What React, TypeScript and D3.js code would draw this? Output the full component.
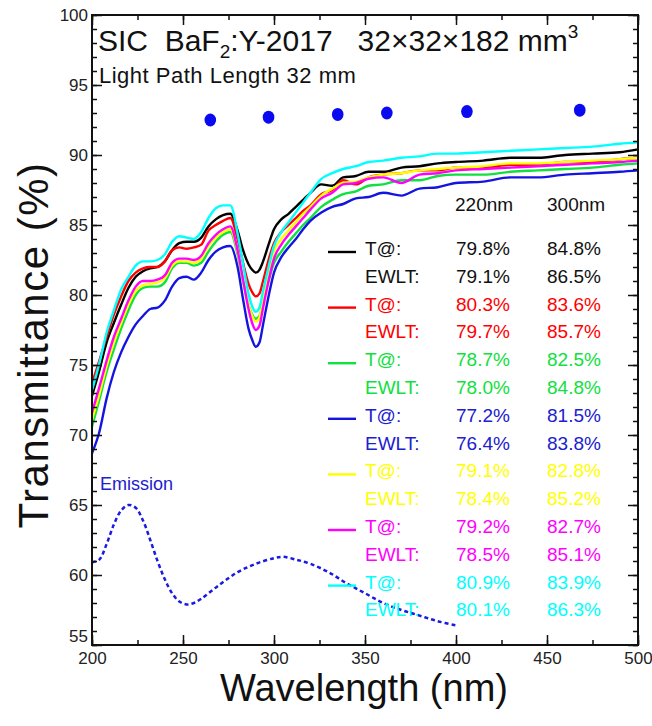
import React, { useEffect, useRef } from "react";
import * as d3 from "d3";

// wavelength grid (nm) shared by the seven transmittance curves
const waves = [200, 204, 208, 212, 216, 220, 224, 228, 232, 236, 240, 244, 248, 252, 256, 260, 264, 268, 272, 276,
  280, 283, 286, 288, 290, 292, 294, 297, 300, 304, 308, 312, 316, 320,
  326, 332, 338, 345, 352, 360, 370, 380, 390, 400, 415, 430, 445, 460, 475, 490, 500];

const blackT = [72.8, 74.6, 76.6, 78.0, 79.3, 80.5, 81.3, 81.7, 81.9, 82.0, 82.4, 83.2, 83.7, 83.8, 83.8, 84.1, 84.9, 85.4, 85.7, 85.8,
  84.6, 83.2, 82.2, 81.8, 81.6, 81.8, 82.4, 83.6, 84.7, 85.4, 85.8, 86.3, 86.8, 87.3,
  87.9, 87.8, 88.4, 88.5, 88.8, 88.8, 89.1, 89.2, 89.4, 89.5, 89.6, 89.8, 89.8, 90.0, 90.1, 90.2, 90.4];
const redT = [73.7, 75.3, 77.0, 78.6, 79.9, 81.0, 81.6, 81.9, 82.0, 82.0, 82.4, 83.2, 83.4, 83.3, 83.4, 83.6, 84.6, 85.0, 85.3, 85.5,
  84.0, 82.3, 80.8, 80.2, 79.9, 80.1, 81.0, 82.5, 83.7, 84.5, 85.0, 85.5, 86.0, 86.4,
  87.2, 87.5, 88.2, 87.9, 88.4, 88.6, 88.7, 88.9, 88.9, 89.1, 89.1, 89.3, 89.3, 89.5, 89.5, 89.7, 89.8];
const greenT = [70.6, 72.5, 74.5, 76.1, 77.6, 78.9, 80.0, 80.5, 80.6, 80.6, 80.9, 81.9, 82.3, 82.3, 82.1, 82.3, 83.1, 83.8, 84.3, 84.5,
  82.9, 81.0, 79.3, 78.6, 78.3, 78.5, 79.5, 81.0, 82.3, 83.1, 83.8, 84.4, 85.0, 85.5,
  86.3, 86.8, 87.2, 87.4, 87.8, 87.9, 88.2, 88.2, 88.5, 88.6, 88.6, 88.8, 88.9, 89.0, 89.1, 89.3, 89.4];
const blueT = [68.7, 70.2, 72.6, 74.5, 75.9, 77.0, 77.9, 78.5, 79.0, 79.1, 79.6, 80.6, 81.2, 81.3, 81.1, 81.6, 82.5, 83.1, 83.4, 83.5,
  82.0, 79.7, 77.6, 76.8, 76.3, 76.6, 77.9, 79.9, 81.6, 82.7, 83.4, 84.0, 84.7, 85.3,
  85.9, 86.3, 86.5, 86.9, 87.0, 87.3, 87.1, 87.6, 87.7, 88.0, 88.1, 88.4, 88.4, 88.6, 88.7, 88.8, 88.9];
const yellowT = [71.1, 72.9, 74.9, 76.6, 78.0, 79.3, 80.3, 80.7, 80.8, 80.9, 81.2, 82.1, 82.4, 82.4, 82.3, 82.6, 83.5, 84.1, 84.5, 84.7,
  83.1, 81.1, 79.3, 78.5, 78.1, 78.4, 79.6, 81.5, 83.1, 84.0, 84.6, 85.2, 85.8, 86.3,
  87.1, 87.6, 88.0, 88.1, 88.4, 88.6, 88.7, 88.9, 89.0, 89.1, 89.2, 89.4, 89.4, 89.5, 89.6, 89.7, 89.8];
const magentaT = [71.6, 73.4, 75.3, 77.0, 78.3, 79.6, 80.6, 81.0, 81.0, 81.1, 81.4, 82.3, 82.6, 82.6, 82.5, 82.8, 83.7, 84.3, 84.7, 84.9,
  83.2, 81.1, 79.0, 78.0, 77.5, 77.8, 79.1, 81.0, 82.6, 83.6, 84.3, 84.9, 85.5, 86.1,
  86.9, 87.3, 87.9, 88.0, 88.3, 88.4, 88.0, 88.6, 88.7, 88.9, 89.0, 89.1, 89.2, 89.3, 89.4, 89.5, 89.6];
const cyanT = [73.2, 75.1, 77.3, 78.9, 80.4, 81.3, 82.1, 82.4, 82.4, 82.5, 82.9, 83.8, 84.2, 84.1, 84.0, 84.5, 85.5, 86.2, 86.4, 86.4,
  84.4, 82.2, 80.1, 79.2, 78.8, 79.1, 80.3, 82.0, 83.5, 84.5, 85.2, 85.9, 86.6, 87.3,
  88.3, 88.7, 89.0, 89.2, 89.5, 89.6, 89.8, 89.9, 90.1, 90.1, 90.2, 90.3, 90.4, 90.5, 90.6, 90.8, 90.9];

const seriesNames = ["black", "red", "green", "blue", "yellow", "magenta", "cyan"];
const seriesColors = ["#000000", "#ff0000", "#10e040", "#1414e0", "#ffff00", "#ff00ff", "#00ffff"];
const textColors = ["#111111", "#ff0000", "#10e040", "#2020d0", "#ffff00", "#ff00ff", "#00ffff"];
const seriesValues = [blackT, redT, greenT, blueT, yellowT, magentaT, cyanT];

// emission spectrum (dashed)
const emWaves = [200, 204, 208, 212, 216, 220, 224, 228, 232, 236, 240, 244, 248, 252, 256, 260, 270, 280, 290, 300, 305, 312, 320, 330, 340, 350, 360, 370, 380, 390, 400];
const emValues = [60.9, 61.1, 62.2, 63.6, 64.6, 65.0, 64.8, 63.9, 62.5, 61.0, 59.7, 58.7, 58.1, 57.9, 58.0, 58.3, 59.3, 60.2, 60.8, 61.2, 61.3, 61.1, 60.8, 60.2, 59.4, 58.7, 58.0, 57.5, 57.1, 56.7, 56.4];

// theoretical limit points
const dotWaves = [265, 297, 335, 362, 406, 468];
const dotValues = [92.5, 92.7, 92.9, 93.0, 93.1, 93.2];

// legend numbers
const t220 = ["79.8%", "80.3%", "78.7%", "77.2%", "79.1%", "79.2%", "80.9%"];
const t300 = ["84.8%", "83.6%", "82.5%", "81.5%", "82.8%", "82.7%", "83.9%"];
const ewlt220 = ["79.1%", "79.7%", "78.0%", "76.4%", "78.4%", "78.5%", "80.1%"];
const ewlt300 = ["86.5%", "85.7%", "84.8%", "83.8%", "85.2%", "85.1%", "86.3%"];

const xTicks = [200, 250, 300, 350, 400, 450, 500];
const yTicks = [55, 60, 65, 70, 75, 80, 85, 90, 95, 100];

const FONT = "'Liberation Sans', Arial, sans-serif";

export default function App() {
  const ref = useRef<SVGSVGElement>(null);

  useEffect(() => {
    const svg = d3.select(ref.current);
    svg.selectAll("*").remove();

    const left = 92, right = 638, top = 15, bottom = 645;
    const x = d3.scaleLinear().domain([200, 500]).range([left, right]);
    const y = d3.scaleLinear().domain([55, 100]).range([bottom, top]);

    const g = svg.append("g");

    // curves
    const line = d3.line<[number, number]>().x(d => x(d[0])).y(d => y(d[1])).curve(d3.curveMonotoneX);
    seriesValues.forEach((vals, i) => {
      g.append("path")
        .datum(waves.map((w, j) => [w, vals[j]] as [number, number]))
        .attr("fill", "none")
        .attr("stroke", seriesColors[i])
        .attr("stroke-width", 2.4)
        .attr("stroke-linejoin", "round")
        .attr("d", line as any);
    });

    // emission
    g.append("path")
      .datum(emWaves.map((w, j) => [w, emValues[j]] as [number, number]))
      .attr("fill", "none")
      .attr("stroke", "#1a1ae0")
      .attr("stroke-width", 2.5)
      .attr("stroke-dasharray", "4 3")
      .attr("d", d3.line<[number, number]>().x(d => x(d[0])).y(d => y(d[1])).curve(d3.curveCatmullRom) as any);

    g.append("text").attr("x", 100).attr("y", 490).attr("font-size", 18).attr("fill", "#2020d0").attr("font-family", FONT).text("Emission");

    // dots
    g.selectAll("ellipse.dot").data(dotWaves).join("ellipse")
      .attr("cx", d => x(d)).attr("cy", (d, i) => y(dotValues[i]))
      .attr("rx", 5.8).attr("ry", 6.5).attr("fill", "#0a0af0");

    // legend
    const lg = svg.append("g").attr("font-family", FONT).attr("font-size", 19);
    lg.append("text").attr("x", 455).attr("y", 211).attr("fill", "#111").text("220nm");
    lg.append("text").attr("x", 547).attr("y", 211).attr("fill", "#111").text("300nm");
    seriesNames.forEach((name, i) => {
      const r0 = 248 + 2 * i * 27.8;
      const r1 = r0 + 27.8;
      lg.append("line").attr("x1", 328).attr("x2", 356).attr("y1", r0 + 4).attr("y2", r0 + 4)
        .attr("stroke", seriesColors[i]).attr("stroke-width", 2.4);
      lg.append("text").attr("x", 365).attr("y", r0 + 7).attr("fill", textColors[i]).text("T@:");
      lg.append("text").attr("x", 456).attr("y", r0 + 7).attr("fill", textColors[i]).text(t220[i]);
      lg.append("text").attr("x", 547).attr("y", r0 + 7).attr("fill", textColors[i]).text(t300[i]);
      lg.append("text").attr("x", 365).attr("y", r1 + 7).attr("fill", textColors[i]).text("EWLT:");
      lg.append("text").attr("x", 456).attr("y", r1 + 7).attr("fill", textColors[i]).text(ewlt220[i]);
      lg.append("text").attr("x", 547).attr("y", r1 + 7).attr("fill", textColors[i]).text(ewlt300[i]);
    });

    // axes, ticks pointing inwards on all four sides
    const minorX = d3.range(200, 501, 25);
    const minorY = d3.range(55, 101, 1);
    const styleAxis = (sel: any) => {
      sel.select(".domain").remove();
      sel.selectAll("line").attr("stroke", "#111").attr("stroke-width", 1.5);
      sel.selectAll("text").attr("font-family", FONT).attr("font-size", 17).attr("fill", "#222");
    };

    svg.append("g").attr("transform", `translate(0,${bottom})`)
      .call(d3.axisBottom(x).tickValues(minorX).tickSize(-5).tickFormat(() => "")).call(styleAxis);
    const xb = svg.append("g").attr("transform", `translate(0,${bottom})`)
      .call(d3.axisBottom(x).tickValues(xTicks).tickSize(-10).tickPadding(7).tickFormat(d3.format("d")));
    styleAxis(xb);
    svg.append("g").attr("transform", `translate(0,${top})`)
      .call(d3.axisTop(x).tickValues(minorX).tickSize(-5).tickFormat(() => "")).call(styleAxis);
    svg.append("g").attr("transform", `translate(0,${top})`)
      .call(d3.axisTop(x).tickValues(xTicks).tickSize(-10).tickFormat(() => "")).call(styleAxis);

    svg.append("g").attr("transform", `translate(${left},0)`)
      .call(d3.axisLeft(y).tickValues(minorY).tickSize(-5).tickFormat(() => "")).call(styleAxis);
    const yl = svg.append("g").attr("transform", `translate(${left},0)`)
      .call(d3.axisLeft(y).tickValues(yTicks).tickSize(-10).tickPadding(4).tickFormat(d3.format("d")));
    styleAxis(yl);
    yl.selectAll(".tick text").filter((d: any) => d === 55).attr("dy", "-0.2em");
    svg.append("g").attr("transform", `translate(${right},0)`)
      .call(d3.axisRight(y).tickValues(minorY).tickSize(-5).tickFormat(() => "")).call(styleAxis);
    svg.append("g").attr("transform", `translate(${right},0)`)
      .call(d3.axisRight(y).tickValues(yTicks).tickSize(-10).tickFormat(() => "")).call(styleAxis);

    // frame
    svg.append("rect").attr("x", left).attr("y", top).attr("width", right - left).attr("height", bottom - top)
      .attr("fill", "none").attr("stroke", "#111").attr("stroke-width", 2);

    // titles
    const title = svg.append("text").attr("x", 98).attr("y", 51).attr("font-family", FONT).attr("font-size", 30)
      .attr("fill", "#111").style("white-space", "pre");
    title.append("tspan").text("SIC  BaF");
    title.append("tspan").attr("font-size", 19).attr("dy", 7).text("2");
    title.append("tspan").attr("dy", -7).text(":Y-2017   32×32×182 mm");
    title.append("tspan").attr("font-size", 19).attr("dy", -13).text("3");

    svg.append("text").attr("x", 99).attr("y", 83).attr("font-family", FONT).attr("font-size", 22)
      .attr("letter-spacing", 0.5).attr("fill", "#111").text("Light Path Length 32 mm");

    svg.append("text").attr("transform", `translate(48,345) rotate(-90)`).attr("text-anchor", "middle")
      .attr("font-family", FONT).attr("font-size", 42).attr("letter-spacing", 1.5).attr("fill", "#111").text("Transmittance (%)");
    svg.append("text").attr("x", 364).attr("y", 701).attr("text-anchor", "middle")
      .attr("font-family", FONT).attr("font-size", 38).attr("fill", "#111").text("Wavelength (nm)");
  }, []);

  return (
    <svg ref={ref} width={652} height={726} style={{ position: "absolute", left: 0, top: 0, background: "#fff" }} />
  );
}
